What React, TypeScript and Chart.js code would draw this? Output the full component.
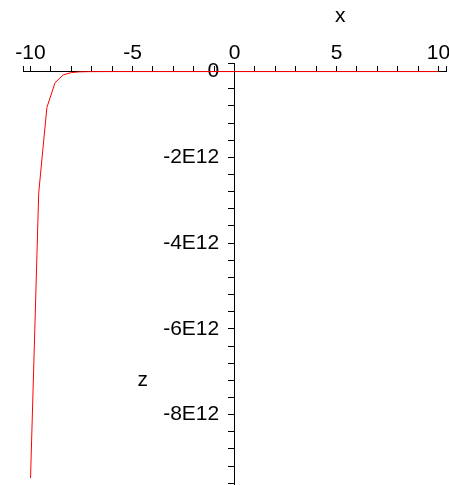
import React, { useEffect, useRef } from 'react';
import { Chart, registerables } from 'chart.js';

Chart.register(...registerables);

// Curve samples (x, z)
const xValues = [-10, -9.6, -9.2, -8.8, -8.4, -8.0, -7.6, -7.2, -6, -4, -2, 0, 2, 4, 6, 8, 10];
const zValues = [-9.48e12, -2.83e12, -0.84e12, -0.26e12, -0.078e12, -0.023e12, -0.007e12, -0.002e12, 0, 0, 0, 0, 0, 0, 0, 0, 0];

// Axis ticks and labels
const xMajorTicks = [-10, -5, 0, 5, 10];
const xMajorLabels = ['-10', '-5', '0', '5', '10'];
const zMajorTicks = [0, -2e12, -4e12, -6e12, -8e12];
const zMajorLabels = ['0', '-2E12', '-4E12', '-6E12', '-8E12'];
const xRange = [-10.37, 10.37];
const zRange = [-9.64e12, 0.2e12];
const xMinorStep = 1;
const zMinorStep = 0.4e12;
const zLabelColumnX = -0.75; // x value where the z tick labels are right-aligned

const FONT = '"Liberation Sans", Arial, Helvetica, sans-serif';

function buildXTicks() {
  const t: number[] = [xRange[0]];
  for (let v = -10; v <= 10; v += xMinorStep) t.push(v);
  t.push(xRange[1]);
  return t;
}
function buildZTicks() {
  const t: number[] = [zRange[1]];
  for (let i = 0; i <= 24; i++) t.push(-i * zMinorStep);
  return t;
}

const axisNamesPlugin = {
  id: 'axisNames',
  afterDraw(chart: any) {
    const { ctx, scales } = chart;
    ctx.save();
    ctx.font = `21px ${FONT}`;
    ctx.fillStyle = '#000';
    ctx.textAlign = 'center';
    ctx.textBaseline = 'middle';
    ctx.fillText('x', scales.x.getPixelForValue(5.18), scales.y.getPixelForValue(0) - 55);
    ctx.fillText('z', scales.x.getPixelForValue(-4.5), scales.y.getPixelForValue(-7.24e12) - 2);
    ctx.restore();
  },
};

const zeroFitX = (s: any) => {
  s.height = 0;
  s.paddingLeft = 0;
  s.paddingRight = 0;
  s.paddingTop = 0;
  s.paddingBottom = 0;
};
const zeroFitY = (s: any) => {
  s.width = 0;
  s.paddingLeft = 0;
  s.paddingRight = 0;
  s.paddingTop = 0;
  s.paddingBottom = 0;
};

export default function App() {
  const ref = useRef<HTMLCanvasElement>(null);
  useEffect(() => {
    if (!ref.current) return;
    const xt = buildXTicks();
    const zt = buildZTicks();
    const zLabel = (v: any) => {
      const n = Number(v);
      const i = zMajorTicks.findIndex((m) => Math.abs(m - n) < 1e6);
      return i >= 0 ? zMajorLabels[i] : '';
    };
    const chart = new Chart(ref.current, {
      type: 'scatter',
      data: {
        datasets: [
          {
            data: xValues.map((x, i) => ({ x, y: zValues[i] })),
            showLine: true,
            borderColor: '#ff0000',
            borderWidth: 1,
            pointRadius: 0,
            tension: 0,
            yAxisID: 'y',
            xAxisID: 'x',
          },
        ],
      },
      plugins: [axisNamesPlugin],
      options: {
        animation: false,
        responsive: false,
        layout: { padding: { left: 23, right: 3, top: 63, bottom: 0 } },
        plugins: { legend: { display: false }, tooltip: { enabled: false } },
        scales: {
          x: {
            type: 'linear',
            min: xRange[0],
            max: xRange[1],
            position: { y: 0 } as any,
            afterBuildTicks: (s: any) => {
              s.ticks = xt.map((v) => ({ value: v }));
            },
            afterFit: zeroFitX,
            grid: {
              drawOnChartArea: false,
              drawTicks: true,
              tickLength: -6,
              tickColor: '#000',
              tickWidth: 1,
            },
            border: { display: true, color: '#000', width: 1 },
            ticks: {
              autoSkip: false,
              maxRotation: 0,
              minRotation: 0,
              padding: -25,
              color: '#000',
              font: { family: FONT, size: 21 },
              callback: (v: any) => {
                const i = xMajorTicks.indexOf(Number(v));
                return i >= 0 ? xMajorLabels[i] : '';
              },
            },
          },
          y: {
            type: 'linear',
            min: zRange[0],
            max: zRange[1],
            position: { x: 0 } as any,
            afterBuildTicks: (s: any) => {
              s.ticks = zt.map((v) => ({ value: v }));
            },
            afterFit: zeroFitY,
            grid: {
              drawOnChartArea: false,
              drawTicks: true,
              tickLength: 6,
              tickColor: '#000',
              tickWidth: 1,
            },
            border: { display: true, color: '#000', width: 1 },
            ticks: {
              autoSkip: false,
              display: false,
            },
          },
          yLabels: {
            type: 'linear',
            min: zRange[0],
            max: zRange[1],
            position: { x: zLabelColumnX } as any,
            afterBuildTicks: (s: any) => {
              s.ticks = zMajorTicks.map((v) => ({ value: v }));
            },
            afterFit: zeroFitY,
            grid: { display: false, drawTicks: false },
            border: { display: false },
            ticks: {
              autoSkip: false,
              color: '#000',
              font: { family: FONT, size: 21 },
              callback: zLabel,
            },
          },
        },
      },
    });
    return () => chart.destroy();
  }, []);
  return (
    <div style={{ position: 'absolute', left: 0, top: 0, width: 449, height: 485 }}>
      <canvas ref={ref} width={449} height={485} style={{ display: 'block' }} />
    </div>
  );
}
